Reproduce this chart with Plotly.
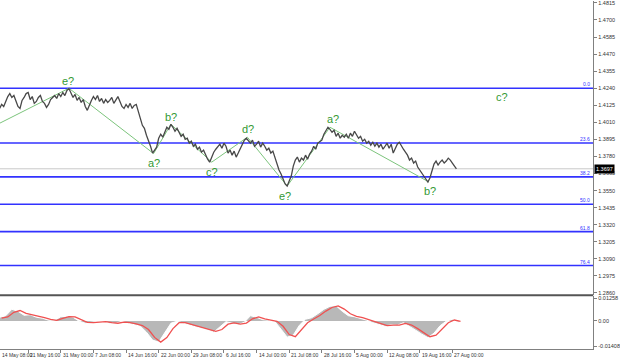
import plotly.graph_objects as go

W, H = 620, 361

# ---------------- data ----------------
# H4 bar index: bar 0 = 14 May 08:00; closes sampled every 2 bars from bar 4
close = [
    1.4104, 1.4131, 1.4117, 1.4158, 1.4184, 1.4204, 1.4178, 1.4191, 1.4158, 1.4117,
    1.4104, 1.4158, 1.4178, 1.4204, 1.4211, 1.4164, 1.4184, 1.4138, 1.4151, 1.4178,
    1.4191, 1.4151, 1.4138, 1.4111, 1.4131, 1.4164, 1.4178, 1.4191, 1.4171, 1.4204,
    1.4184, 1.4211, 1.4191, 1.4225, 1.4238, 1.4211, 1.4178, 1.4198, 1.4158, 1.4178,
    1.4144, 1.4164, 1.4117, 1.4091, 1.4131, 1.4158, 1.4184, 1.4164, 1.4191, 1.4151,
    1.4171, 1.4138, 1.4164, 1.4144, 1.4158, 1.4178, 1.4138, 1.4164, 1.4184, 1.4151,
    1.4117, 1.4104, 1.4131, 1.4111, 1.4138, 1.4104, 1.4124, 1.4131, 1.4091, 1.4037,
    1.3990, 1.3970, 1.3923, 1.3890, 1.3849, 1.3803, 1.3823, 1.3843, 1.3903, 1.3930,
    1.3910, 1.3950, 1.3977, 1.3963, 1.3997, 1.3977, 1.3950, 1.3970, 1.3943, 1.3916,
    1.3930, 1.3896, 1.3903, 1.3870, 1.3883, 1.3849, 1.3863, 1.3829, 1.3843, 1.3809,
    1.3823, 1.3789, 1.3762, 1.3742, 1.3776, 1.3809, 1.3829, 1.3843, 1.3863, 1.3836,
    1.3870, 1.3849, 1.3803, 1.3823, 1.3789, 1.3816, 1.3776, 1.3803, 1.3836, 1.3863,
    1.3890, 1.3903, 1.3883, 1.3870, 1.3890, 1.3849, 1.3863, 1.3883, 1.3843, 1.3870,
    1.3849, 1.3823, 1.3836, 1.3803, 1.3816, 1.3769, 1.3736, 1.3689, 1.3662, 1.3628,
    1.3595, 1.3581, 1.3615, 1.3648, 1.3715, 1.3756, 1.3776, 1.3742, 1.3769, 1.3756,
    1.3789, 1.3762, 1.3796, 1.3816, 1.3849, 1.3829, 1.3870, 1.3883, 1.3890, 1.3930,
    1.3957, 1.3977, 1.3963, 1.3943, 1.3957, 1.3916, 1.3937, 1.3903, 1.3923, 1.3910,
    1.3930, 1.3903, 1.3937, 1.3916, 1.3950, 1.3930, 1.3903, 1.3916, 1.3883, 1.3896,
    1.3870, 1.3883, 1.3856, 1.3876, 1.3849, 1.3870, 1.3843, 1.3863, 1.3829, 1.3849,
    1.3870, 1.3836, 1.3863, 1.3803, 1.3836, 1.3863, 1.3876, 1.3849, 1.3829, 1.3809,
    1.3789, 1.3756, 1.3769, 1.3736, 1.3749, 1.3709, 1.3689, 1.3662, 1.3642, 1.3622,
    1.3608, 1.3635, 1.3675, 1.3729, 1.3749, 1.3722, 1.3742, 1.3756, 1.3736, 1.3749,
    1.3769, 1.3756, 1.3736, 1.3715, 1.3697,
]
close_start_bar = 4
close_step = 2

current_price = 1.3697

# oscillator (one value per day = 6 H4 bars, from bar 4)
osc_hist = [
    0.00205, 0.00289, 0.00649, 0.00538, 0.00316, 0.00344, 0.00205, 0.00150, 0.00039, 0.00039,
    0.00233, 0.00261, 0.00205, -0.00017, -0.00128, -0.00072, -0.00017, -0.00044, -0.00128, -0.00128,
    -0.00017, -0.00128, -0.00211, -0.00294, -0.00627, -0.01071, -0.01182, -0.00627, -0.00128, -0.00017,
    -0.00128, -0.00239, -0.00322, -0.00405, -0.00488, -0.00627, -0.00350, -0.00044, -0.00128, -0.00211,
    -0.00072, 0.00289, 0.00205, 0.00067, 0.00039, -0.00044, -0.00461, -0.00905, -0.00794, -0.00239,
    0.00094, 0.00178, 0.00400, 0.00649, 0.00816, 0.00844, 0.00538, 0.00289, 0.00233, 0.00150,
    0.00039, -0.00100, -0.00183, -0.00294, -0.00211, -0.00239, -0.00100, -0.00294, -0.00516, -0.00738,
    -0.00932, -0.00683, -0.00266, -0.00017, 0.00094, -0.00072,
]
osc_signal = [
    0.0015, 0.0022, 0.0048, 0.0058, 0.0042, 0.0035, 0.0027, 0.0018, 0.0009, 0.0003,
    0.0014, 0.0024, 0.0023, 0.0008, -0.0008, -0.0010, -0.0005, -0.0004, -0.0009, -0.0013,
    -0.0007, -0.0009, -0.0017, -0.0026, -0.0048, -0.0092, -0.0118, -0.0093, -0.0043, -0.0010,
    -0.0009, -0.0019, -0.0029, -0.0037, -0.0045, -0.0058, -0.0048, -0.0018, -0.0011, -0.0018,
    -0.0012, 0.0012, 0.0022, 0.0011, 0.0005, -0.0002, -0.0030, -0.0076, -0.0088, -0.0052,
    -0.0010, 0.0011, 0.0030, 0.0055, 0.0075, 0.0084, 0.0066, 0.0040, 0.0026, 0.0018,
    0.0008, -0.0005, -0.0015, -0.0026, -0.0024, -0.0023, -0.0014, -0.0023, -0.0043, -0.0066,
    -0.0088, -0.0080, -0.0043, -0.0010, 0.0005, -0.0002,
]
osc_start_bar = 4
osc_step = 6

# wave zigzag
wave_bars = [4, 72, 155, 172, 212, 247, 286, 328, 425]
wave_prices = [1.4004, 1.4240, 1.3800, 1.3997, 1.3742, 1.3910, 1.3581, 1.3977, 1.3608]

wave_label_text = ["e?", "a?", "b?", "c?", "d?", "e?", "a?", "b?", "c?"]
wave_label_bars = [71, 155, 172, 212, 248, 284, 331, 426, 497]
wave_label_prices = [1.4292, 1.3736, 1.4044, 1.3675, 1.3963, 1.3514, 1.4030, 1.3548, 1.4178]

# Fibonacci grid
fib_high = 1.4240
fib_low = 1.2676
fib_levels = [0.0, 23.6, 38.2, 50.0, 61.8, 76.4]

# axes
price_ticks = [1.4815, 1.4700, 1.4585, 1.4470, 1.4355, 1.4240, 1.4125, 1.4010, 1.3895,
               1.3780, 1.3665, 1.3550, 1.3435, 1.3320, 1.3205, 1.3090, 1.2975, 1.2860]
osc_ticks = [0.01258, 0.0, -0.01408]
osc_tick_text = ["0.01258", "0.00", "-0.01408"]

date_labels = ["14 May 08:00", "21 May 16:00", "31 May 00:00", "7 Jun 08:00", "14 Jun 16:00",
               "22 Jun 00:00", "29 Jun 08:00", "6 Jul 16:00", "14 Jul 00:00", "21 Jul 08:00",
               "28 Jul 16:00", "5 Aug 00:00", "12 Aug 08:00", "19 Aug 16:00", "27 Aug 00:00"]
date_label_bars = [0, 32, 64, 96, 128, 160, 192, 224, 256, 288, 320, 352, 384, 416, 448]

# ---------------- layout geometry ----------------
x_range = [4.38, 586.1]
x_dom = [0, 598 / W]
price_dom = [1 - 296 / H, 1]
osc_dom = [1 - 349.5 / H, 1 - 297 / H]
price_range = [1.2844, 1.4828]
osc_range = [-0.01543, 0.01371]

FONT = "Liberation Sans"
GREEN = "#339933"
BLUE = "#3232ff"

close_bars = [close_start_bar + close_step * i for i in range(len(close))]
osc_bars = [osc_start_bar + osc_step * i for i in range(len(osc_hist))]

fig = go.Figure()

# Fibonacci lines
fib_prices = [fib_high - (fib_high - fib_low) * lv / 100 for lv in fib_levels]
for p in fib_prices:
    fig.add_trace(go.Scatter(x=x_range, y=[p, p], mode="lines",
                             line=dict(color=BLUE, width=1.6), hoverinfo="skip",
                             xaxis="x", yaxis="y", showlegend=False))

# current price line
fig.add_trace(go.Scatter(x=x_range, y=[current_price, current_price], mode="lines",
                         line=dict(color="#c8c8c8", width=1), hoverinfo="skip",
                         xaxis="x", yaxis="y", showlegend=False))

# wave zigzag
fig.add_trace(go.Scatter(x=wave_bars, y=wave_prices, mode="lines",
                         line=dict(color="#7cc47c", width=1),
                         xaxis="x", yaxis="y", showlegend=False))

# price
fig.add_trace(go.Scatter(x=close_bars, y=close, mode="lines",
                         line=dict(color="#484848", width=1.3),
                         xaxis="x", yaxis="y", showlegend=False))

# oscillator
fig.add_trace(go.Scatter(x=osc_bars, y=osc_hist, mode="lines", fill="tozeroy",
                         fillcolor="#b8b8b8", line=dict(color="#ffffff", width=1),
                         xaxis="x2", yaxis="y2", showlegend=False))
fig.add_trace(go.Scatter(x=[b + 2 for b in osc_bars], y=osc_signal, mode="lines",
                         line=dict(color="#f05050", width=1.3),
                         xaxis="x2", yaxis="y2", showlegend=False))

annotations = []
# wave labels
for t, b, p in zip(wave_label_text, wave_label_bars, wave_label_prices):
    annotations.append(dict(x=b, y=p, xref="x", yref="y", text=t, showarrow=False,
                            font=dict(family=FONT, size=11, color=GREEN),
                            xanchor="center", yanchor="middle"))
# fib labels
for lv, p in zip(fib_levels, fib_prices):
    annotations.append(dict(x=597 / W, y=p, xref="paper", yref="y", text=f"{lv:.1f}",
                            showarrow=False, font=dict(family=FONT, size=5, color=BLUE),
                            xanchor="right", yanchor="bottom", yshift=-1))
# price tag
annotations.append(dict(x=599 / W, y=current_price, xref="paper", yref="y",
                        text=f"{current_price:.4f}", showarrow=False,
                        font=dict(family=FONT, size=5.5, color="#ffffff"),
                        bgcolor="#000000", xanchor="left", yanchor="middle", borderpad=1))
# date labels (left-aligned at tick; first one kept inside the page)
for t, b in zip(date_labels, date_label_bars):
    frac = (b - x_range[0]) / (x_range[1] - x_range[0])
    xp = max(x_dom[0] + frac * (x_dom[1] - x_dom[0]), 0.0)
    annotations.append(dict(x=xp, y=1 - 351 / H, xref="paper", yref="paper", text=t,
                            showarrow=False, font=dict(family=FONT, size=5, color="#333333"),
                            xanchor="left", yanchor="top"))

shapes = [
    # separator between panels
    dict(type="line", xref="paper", yref="paper", x0=0, x1=598 / W,
         y0=1 - 296 / H, y1=1 - 296 / H, line=dict(color="#555555", width=2)),
]

axis_common = dict(showgrid=False, zeroline=False)
fig.update_layout(
    width=W, height=H,
    margin=dict(l=0, r=0, t=0, b=0),
    paper_bgcolor="#ffffff", plot_bgcolor="#ffffff",
    showlegend=False,
    xaxis=dict(domain=x_dom, range=x_range, anchor="y", showticklabels=False,
               ticks="", **axis_common),
    yaxis=dict(domain=price_dom, range=price_range, anchor="x", side="right",
               tickvals=price_ticks, ticktext=[f"{v:.4f}" for v in price_ticks],
               ticks="outside", ticklen=3, tickcolor="#808080",
               ticklabeloverflow="allow",
               tickfont=dict(family=FONT, size=5.5, color="#333333"),
               showline=True, linecolor="#808080", linewidth=1, **axis_common),
    xaxis2=dict(domain=x_dom, range=x_range, anchor="y2", showticklabels=False,
                tickvals=date_label_bars, ticks="outside", ticklen=3, tickcolor="#808080",
                showline=True, linecolor="#808080", linewidth=1, **axis_common),
    yaxis2=dict(domain=osc_dom, range=osc_range, anchor="x2", side="right",
                tickvals=osc_ticks, ticktext=osc_tick_text,
                ticks="outside", ticklen=3, tickcolor="#808080",
                ticklabeloverflow="allow",
                tickfont=dict(family=FONT, size=5.5, color="#333333"),
                showline=True, linecolor="#808080", linewidth=1, **axis_common),
    annotations=annotations,
    shapes=shapes,
)

fig.write_html("out.html")
